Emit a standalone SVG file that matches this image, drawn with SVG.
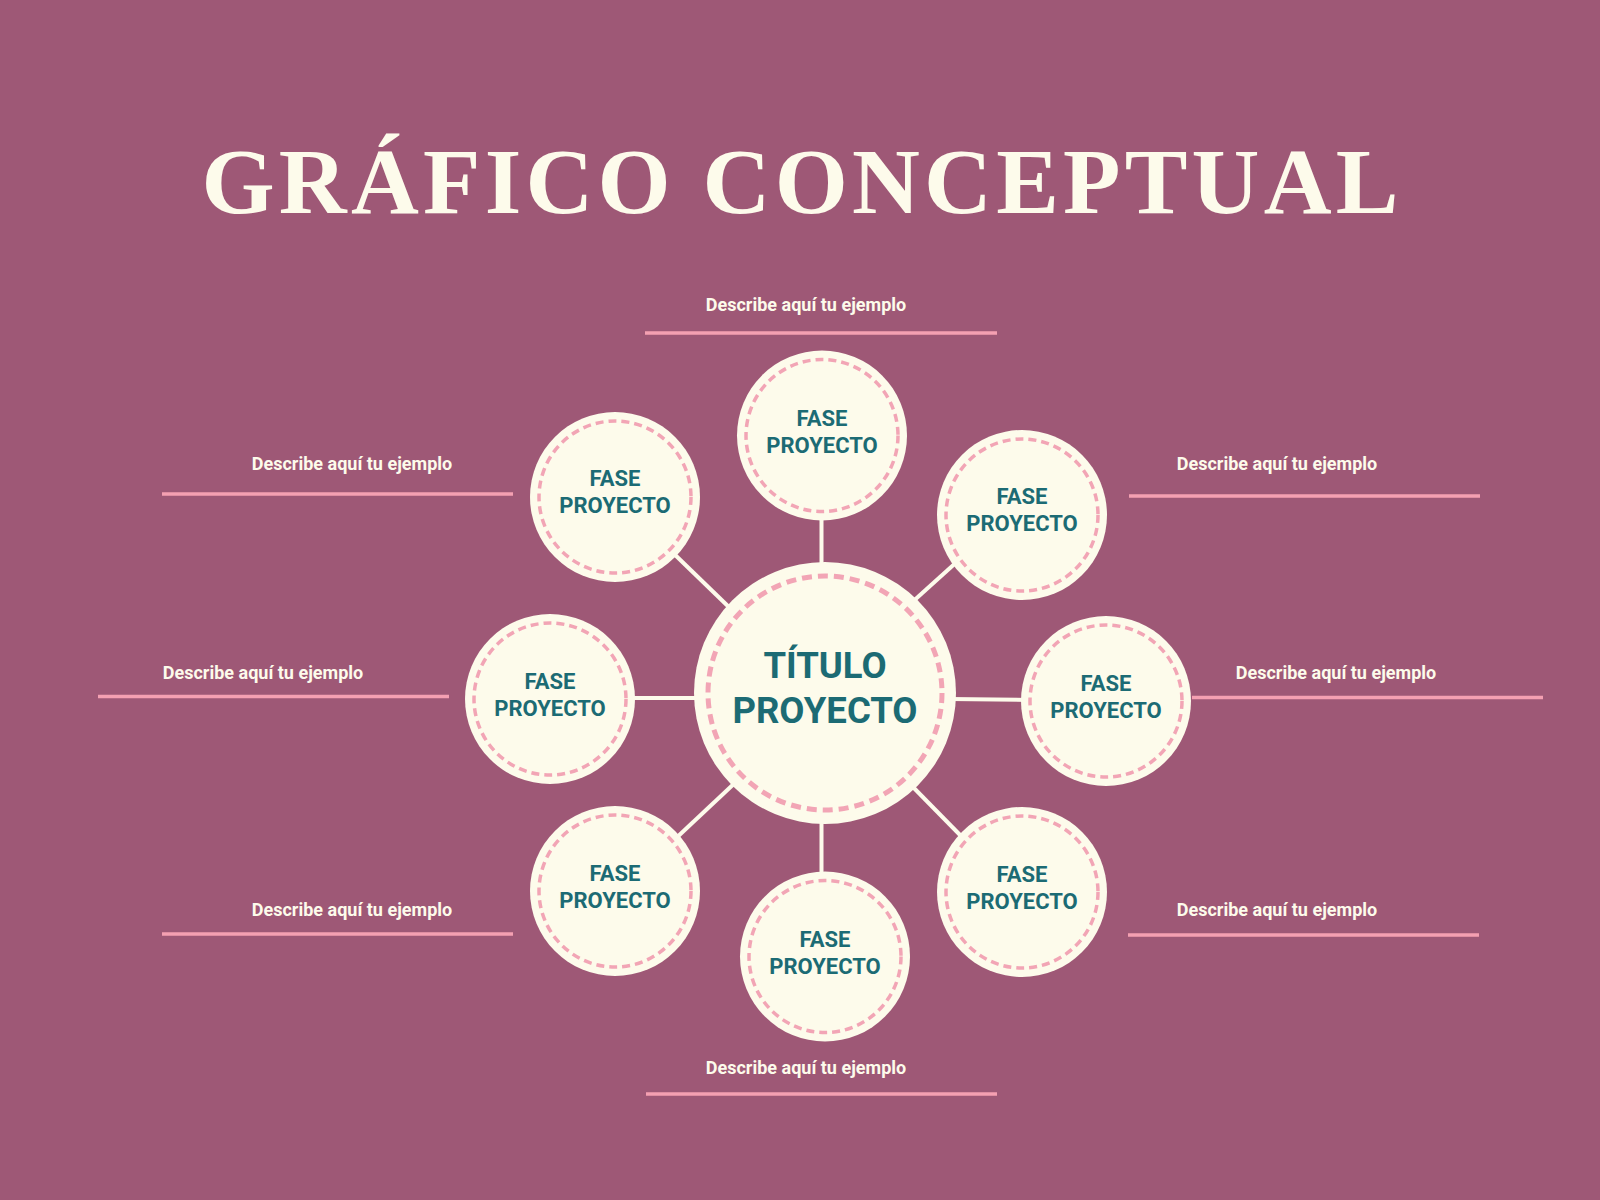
<svg xmlns="http://www.w3.org/2000/svg" width="1600" height="1200" viewBox="0 0 1600 1200">
  <defs>
    <style>
      .bg { fill: #9e5876; }
      .title { font-family: "Liberation Serif", "DejaVu Serif", serif; font-weight: bold; fill: #fdfbeb; font-size: 94px; }
      .conn { stroke: #fdfbeb; stroke-width: 4; fill: none; }
      .disc { fill: #fdfbeb; }
      .ring-s { fill: none; stroke: #f2a5b5; stroke-width: 3.5; stroke-dasharray: 8 5; }
      .ring-c { fill: none; stroke: #f2a5b5; stroke-width: 5; stroke-dasharray: 10 6; }
      .phase { font-family: Roboto, "Liberation Sans", sans-serif; font-weight: bold; fill: #1c6b74; font-size: 22px; text-anchor: middle; }
      .main { font-family: Roboto, "Liberation Sans", sans-serif; font-weight: bold; fill: #1c6b74; font-size: 36.5px; text-anchor: middle; }
      .desc { font-family: Roboto, "Liberation Sans", sans-serif; font-weight: bold; fill: #fdfbeb; font-size: 18px; text-anchor: middle; }
      .uline { stroke: #f4a0b2; stroke-width: 3.5; }
    </style>
  </defs>

  <rect class="bg" x="0" y="0" width="1600" height="1200"/>

  <text class="title" x="800" y="213" text-anchor="middle" textLength="1197" lengthAdjust="spacing">GRÁFICO CONCEPTUAL</text>

  <g id="connectors">
    <line class="conn" x1="821.5" y1="510" x2="821.5" y2="570"/>
    <line class="conn" x1="670" y1="550" x2="733" y2="611"/>
    <line class="conn" x1="960" y1="559" x2="909" y2="605"/>
    <line class="conn" x1="625" y1="698" x2="700" y2="698"/>
    <line class="conn" x1="950" y1="699" x2="1030" y2="700"/>
    <line class="conn" x1="673" y1="841" x2="738" y2="780"/>
    <line class="conn" x1="909" y1="783" x2="963" y2="838"/>
    <line class="conn" x1="821.5" y1="815" x2="821.5" y2="880"/>
  </g>

  <g id="descriptions">
    <g id="desc-top">
      <text class="desc" x="806" y="311">Describe aquí tu ejemplo</text>
      <line class="uline" x1="645" y1="333" x2="997" y2="333"/>
    </g>
    <g id="desc-upper-left">
      <text class="desc" x="352" y="470">Describe aquí tu ejemplo</text>
      <line class="uline" x1="162" y1="494" x2="513" y2="494"/>
    </g>
    <g id="desc-upper-right">
      <text class="desc" x="1277" y="470">Describe aquí tu ejemplo</text>
      <line class="uline" x1="1129" y1="496" x2="1480" y2="496"/>
    </g>
    <g id="desc-left">
      <text class="desc" x="263" y="679">Describe aquí tu ejemplo</text>
      <line class="uline" x1="98" y1="696.5" x2="449" y2="696.5"/>
    </g>
    <g id="desc-right">
      <text class="desc" x="1336" y="679">Describe aquí tu ejemplo</text>
      <line class="uline" x1="1192" y1="697.5" x2="1543" y2="697.5"/>
    </g>
    <g id="desc-lower-left">
      <text class="desc" x="352" y="916">Describe aquí tu ejemplo</text>
      <line class="uline" x1="162" y1="934" x2="513" y2="934"/>
    </g>
    <g id="desc-lower-right">
      <text class="desc" x="1277" y="916">Describe aquí tu ejemplo</text>
      <line class="uline" x1="1128" y1="935" x2="1479" y2="935"/>
    </g>
    <g id="desc-bottom">
      <text class="desc" x="806" y="1074">Describe aquí tu ejemplo</text>
      <line class="uline" x1="646" y1="1094" x2="997" y2="1094"/>
    </g>
  </g>

  <g id="center-node">
    <circle class="disc" cx="825" cy="693" r="131"/>
    <circle class="ring-c" cx="825" cy="693" r="117"/>
    <text class="main" x="825" y="678">TÍTULO</text>
    <text class="main" x="825" y="723">PROYECTO</text>
  </g>

  <g id="phase-top">
    <circle class="disc" cx="822" cy="435.5" r="85"/>
    <circle class="ring-s" cx="822" cy="435.5" r="76"/>
    <text class="phase" x="822" y="426">FASE</text>
    <text class="phase" x="822" y="452.5">PROYECTO</text>
  </g>
  <g id="phase-upper-left">
    <circle class="disc" cx="615" cy="497" r="85"/>
    <circle class="ring-s" cx="615" cy="497" r="76"/>
    <text class="phase" x="615" y="486">FASE</text>
    <text class="phase" x="615" y="512.5">PROYECTO</text>
  </g>
  <g id="phase-upper-right">
    <circle class="disc" cx="1022" cy="515" r="85"/>
    <circle class="ring-s" cx="1022" cy="515" r="76"/>
    <text class="phase" x="1022" y="504">FASE</text>
    <text class="phase" x="1022" y="530.5">PROYECTO</text>
  </g>
  <g id="phase-left">
    <circle class="disc" cx="550" cy="699" r="85"/>
    <circle class="ring-s" cx="550" cy="699" r="76"/>
    <text class="phase" x="550" y="689">FASE</text>
    <text class="phase" x="550" y="715.5">PROYECTO</text>
  </g>
  <g id="phase-right">
    <circle class="disc" cx="1106" cy="701" r="85"/>
    <circle class="ring-s" cx="1106" cy="701" r="76"/>
    <text class="phase" x="1106" y="691">FASE</text>
    <text class="phase" x="1106" y="717.5">PROYECTO</text>
  </g>
  <g id="phase-lower-left">
    <circle class="disc" cx="615" cy="891" r="85"/>
    <circle class="ring-s" cx="615" cy="891" r="76"/>
    <text class="phase" x="615" y="881">FASE</text>
    <text class="phase" x="615" y="907.5">PROYECTO</text>
  </g>
  <g id="phase-lower-right">
    <circle class="disc" cx="1022" cy="892" r="85"/>
    <circle class="ring-s" cx="1022" cy="892" r="76"/>
    <text class="phase" x="1022" y="882">FASE</text>
    <text class="phase" x="1022" y="908.5">PROYECTO</text>
  </g>
  <g id="phase-bottom">
    <circle class="disc" cx="825" cy="956.5" r="85"/>
    <circle class="ring-s" cx="825" cy="956.5" r="76"/>
    <text class="phase" x="825" y="947">FASE</text>
    <text class="phase" x="825" y="973.5">PROYECTO</text>
  </g>
</svg>
